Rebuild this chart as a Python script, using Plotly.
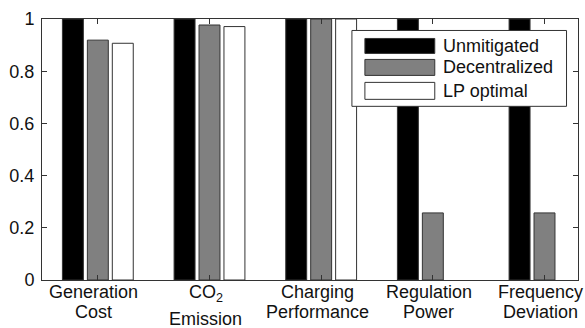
import plotly.graph_objects as go

categories = ["Generation<br>Cost", "CO<sub>2</sub><br>Emission", "Charging<br>Performance",
              "Regulation<br>Power", "Frequency<br>Deviation"]
series_names = ["Unmitigated", "Decentralized", "LP optimal"]
unmitigated = [1.0, 1.0, 1.0, 1.0, 1.0]
decentralized = [0.919, 0.977, 1.0, 0.257, 0.257]
lp_optimal = [0.907, 0.971, 1.0, 0.0, 0.0]
colors = ["#000000", "#808080", "#ffffff"]
y_ticks = [0, 0.2, 0.4, 0.6, 0.8, 1]

FONT = "Arial, Liberation Sans, Helvetica, sans-serif"
FS = 18
W, H = 585, 328
ML, MR, MT, MB = 41.5, 6.5, 18.5, 48

fig = go.Figure()
for name, vals, col in zip(series_names, [unmitigated, decentralized, lp_optimal], colors):
    fig.add_trace(go.Bar(x=categories, y=vals, name=name, marker_color=col,
                         marker_line=dict(color="#333333", width=[1 if v > 0 else 0 for v in vals]),
                         showlegend=False, hoverinfo="skip"))

fig.update_layout(
    width=W, height=H,
    margin=dict(l=ML, r=MR, t=MT, b=MB, autoexpand=False),
    paper_bgcolor="white", plot_bgcolor="white",
    barmode="group", bargap=0.33, bargroupgap=0.16,
    font=dict(family=FONT, size=FS, color="#111111"),
)
fig.update_xaxes(range=[-0.5, 4.3], showline=True, linecolor="#333333", linewidth=1,
                 mirror="ticks", ticks="inside", ticklen=5, tickcolor="#333333",
                 showgrid=False, showticklabels=False, automargin=False)
fig.update_yaxes(range=[0, 1], tickvals=y_ticks, showline=True, linecolor="#333333", linewidth=1,
                 mirror="ticks", ticks="inside", ticklen=5, tickcolor="#333333",
                 showgrid=False, zeroline=False, tickfont=dict(size=FS), automargin=False,
                 ticklabelstandoff=3)

pw, ph = W - ML - MR, H - MT - MB
def px(x):
    return (x - ML) / pw
def py(y):
    return 1 - (y - MT) / ph

# two-line category labels under the axis (MATLAB-like tight line spacing)
for cat in categories:
    line1, line2 = cat.split("<br>")
    has_sub = "<sub>" in line1
    fig.add_annotation(x=cat, xref="x", yref="paper", y=py(292.5 + (1 if has_sub else 0)), text=line1,
                       showarrow=False, xanchor="center", yanchor="middle", xshift=-4,
                       font=dict(size=FS, family=FONT, color="#111111"))
    fig.add_annotation(x=cat, xref="x", yref="paper", y=py(319 if has_sub else 312.5), text=line2,
                       showarrow=False, xanchor="center", yanchor="middle", xshift=-4,
                       font=dict(size=FS, family=FONT, color="#111111"))

# custom legend box (MATLAB style wide swatches)
fig.add_shape(type="rect", xref="paper", yref="paper",
              x0=px(352), x1=px(567), y0=py(106), y1=py(30),
              line=dict(color="#333333", width=1), fillcolor="white")
rows = [(38, 53), (59, 75), (82, 99)]
for (y0, y1), name, col in zip(rows, series_names, colors):
    fig.add_shape(type="rect", xref="paper", yref="paper",
                  x0=px(365), x1=px(435), y0=py(y1), y1=py(y0),
                  line=dict(color="#333333", width=1), fillcolor=col)
    fig.add_annotation(xref="paper", yref="paper", x=px(441), y=py((y0 + y1) / 2),
                       text=name, showarrow=False, xanchor="left", yanchor="middle",
                       font=dict(size=FS, family=FONT, color="#111111"))

fig.write_html("out.html", config={"displayModeBar": False},
               post_script="document.body.style.margin='0';document.body.style.overflow='hidden';")
